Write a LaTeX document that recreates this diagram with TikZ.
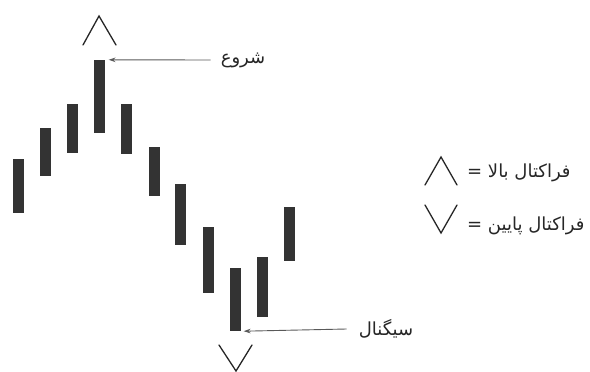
\documentclass[tikz,border=0pt]{standalone}
\usepackage{fontspec}
\newfontfamily\arabicfont[Script=Arabic]{DejaVu Sans}
\TeXXeTstate=1
\usetikzlibrary{arrows.meta}

\begin{document}
\begin{tikzpicture}[x=1pt,y=-1pt,
  >={Stealth[length=2.4mm,width=1.6mm]},
  bar/.style={fill=black!80,minimum width=11pt,inner sep=0pt},
  chev/.style={line width=1.3pt,black!85,line cap=round},
  link/.style={->,black!65,line width=0.9pt},
  lbl/.style={font=\arabicfont\fontsize{18}{20}\selectfont,inner sep=0pt,text=black!85}]
\useasboundingbox (0,0) rectangle (590,372);

% --- the bars, left to right ---
\node[bar,minimum height=54pt] (b1) at (18.5,186) {};
\node[bar,minimum height=48pt] (b2) at (45.5,152) {};
\node[bar,minimum height=49pt] (b3) at (72.5,128.5) {};
\node[bar,minimum height=73pt] (b4) at (99,96.5) {};
\node[bar,minimum height=50pt] (b5) at (126.5,129) {};
\node[bar,minimum height=49pt] (b6) at (154,171.5) {};
\node[bar,minimum height=61pt] (b7) at (180.5,214.5) {};
\node[bar,minimum height=66pt] (b8) at (208,260) {};
\node[bar,minimum height=63pt] (b9) at (235,299.5) {};
\node[bar,minimum height=60pt] (b10) at (262.5,287) {};
\node[bar,minimum height=54pt] (b11) at (289.5,234) {};

% fractal marks over the top bar and under the low bar
\draw[chev] (83,45) -- (99,16) -- (116,45);
\draw[chev] (219,345) -- (236,371) -- (252,345);

% --- labels with their arrows ---
\node[lbl] (start) at (243,60) {\beginR شروع\endR};
\node[lbl] (signal) at (386,329) {\beginR سیگنال\endR};

\draw[link] ([xshift=-10pt]start.west) -- ([xshift=4pt]b4.north east);
\draw[link] ([xshift=-12pt]signal.west) -- ([xshift=3pt]b9.south east);

% --- legend ---
\draw[chev] (425,185) -- (441,157) -- (457,185);
\draw[chev] (425,205) -- (441,233) -- (457,205);
\node[lbl,anchor=west] (up) at (467,173) {\beginR فراکتال بالا =\endR};
\node[lbl,anchor=west] (down) at (467,226) {\beginR فراکتال پایین =\endR};

\end{tikzpicture}
\end{document}
